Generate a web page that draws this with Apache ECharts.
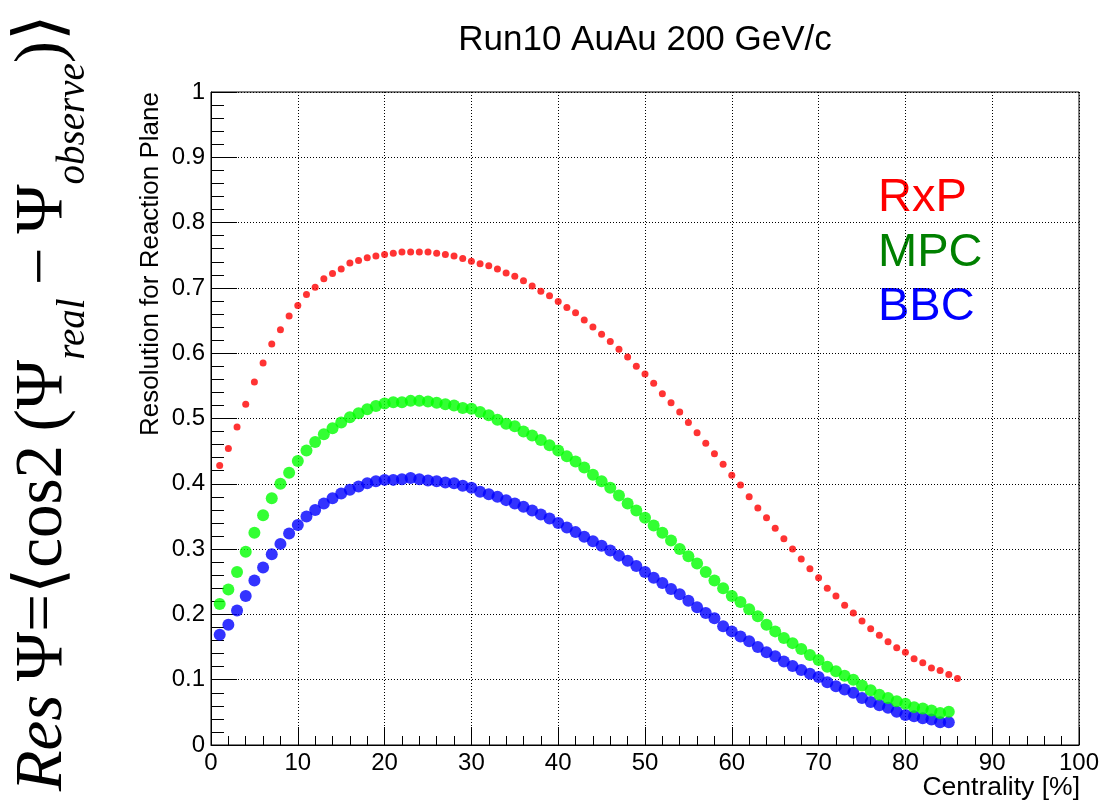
<!DOCTYPE html>
<html>
<head>
<meta charset="utf-8">
<script src="https://cdn.jsdelivr.net/npm/echarts@6/dist/echarts.min.js"></script>
<style>
html,body{margin:0;padding:0;background:#fff;}
#chart{width:1106px;height:806px;}
</style>
</head>
<body>
<div id="chart"></div>
<script>
const chartTitle = 'Run10 AuAu 200 GeV/c';
const xTitle = 'Centrality [%]';
const yTitle = 'Resolution for Reaction Plane';
const seriesNames = ['RxP', 'MPC', 'BBC'];

const centrality = [1,2,3,4,5,6,7,8,9,10,11,12,13,14,15,16,17,18,19,20,
  21,22,23,24,25,26,27,28,29,30,31,32,33,34,35,36,37,38,39,40,
  41,42,43,44,45,46,47,48,49,50,51,52,53,54,55,56,57,58,59,60,
  61,62,63,64,65,66,67,68,69,70,71,72,73,74,75,76,77,78,79,80,
  81,82,83,84,85,86];

const rxp = [0.428,0.454,0.487,0.522,0.556,0.585,0.614,0.636,0.657,0.673,
  0.690,0.701,0.714,0.722,0.729,0.738,0.742,0.746,0.749,0.751,
  0.753,0.755,0.755,0.755,0.755,0.753,0.751,0.749,0.745,0.741,
  0.737,0.734,0.729,0.723,0.718,0.711,0.703,0.695,0.688,0.679,
  0.670,0.662,0.651,0.640,0.629,0.618,0.606,0.594,0.580,0.568,
  0.554,0.538,0.524,0.510,0.494,0.478,0.462,0.446,0.430,0.413,
  0.398,0.380,0.363,0.348,0.332,0.316,0.300,0.285,0.270,0.256,
  0.240,0.228,0.214,0.202,0.190,0.178,0.168,0.158,0.149,0.142,
  0.132,0.126,0.118,0.114,0.108,0.102];

const mpc = [0.216,0.238,0.265,0.296,0.325,0.352,0.378,0.400,0.417,0.435,
  0.451,0.464,0.476,0.485,0.494,0.502,0.508,0.514,0.519,0.523,
  0.525,0.525,0.527,0.527,0.526,0.524,0.522,0.520,0.516,0.515,
  0.510,0.505,0.498,0.492,0.488,0.480,0.474,0.467,0.459,0.451,
  0.442,0.434,0.425,0.414,0.404,0.394,0.382,0.370,0.359,0.348,
  0.336,0.325,0.313,0.300,0.289,0.278,0.265,0.252,0.240,0.228,
  0.219,0.208,0.197,0.184,0.174,0.164,0.156,0.147,0.138,0.130,
  0.120,0.113,0.106,0.100,0.091,0.084,0.077,0.072,0.067,0.063,
  0.058,0.056,0.053,0.049,0.051];

const bbc = [0.169,0.184,0.206,0.228,0.252,0.272,0.292,0.308,0.324,0.337,
  0.350,0.360,0.370,0.378,0.385,0.391,0.396,0.401,0.404,0.406,
  0.406,0.407,0.409,0.407,0.405,0.404,0.402,0.401,0.397,0.394,
  0.388,0.384,0.380,0.375,0.370,0.365,0.359,0.353,0.347,0.340,
  0.333,0.326,0.319,0.312,0.305,0.298,0.290,0.282,0.274,0.265,
  0.256,0.248,0.239,0.231,0.221,0.211,0.202,0.194,0.182,0.174,
  0.166,0.159,0.150,0.142,0.136,0.128,0.121,0.115,0.109,0.104,
  0.096,0.090,0.085,0.080,0.072,0.066,0.061,0.057,0.051,0.046,
  0.044,0.041,0.039,0.035,0.035];

function pairs(ys) { return ys.map((v, i) => [centrality[i], v]); }

const chart = echarts.init(document.getElementById('chart'), null, {renderer: 'canvas'});
const SANS = "'Liberation Sans', Arial, sans-serif";
const SERIF = "'Liberation Serif', 'DejaVu Serif', serif";

const option = {
  backgroundColor: '#ffffff',
  animation: false,
  grid: {left: 211, top: 92, width: 868, height: 653, show: true, borderColor: '#000', borderWidth: 1, backgroundColor: 'transparent'},
  xAxis: {
    type: 'value', min: 0, max: 100, interval: 10,
    axisLine: {show: true, onZero: false, lineStyle: {color: '#000', width: 1}},
    axisTick: {show: true, inside: true, length: 18, lineStyle: {color: '#000', width: 1}},
    minorTick: {show: true, splitNumber: 5, length: 9, lineStyle: {color: '#000', width: 1}},
    axisLabel: {color: '#000', fontSize: 24, fontFamily: SANS, margin: 6},
    splitLine: {show: true, lineStyle: {color: '#000', width: 1, type: [1, 2]}}
  },
  yAxis: {
    type: 'value', min: 0, max: 1, interval: 0.1,
    axisLine: {show: true, onZero: false, lineStyle: {color: '#000', width: 1}},
    axisTick: {show: true, inside: true, length: 26, lineStyle: {color: '#000', width: 1}},
    minorTick: {show: true, splitNumber: 5, length: 13, lineStyle: {color: '#000', width: 1}},
    axisLabel: {color: '#000', fontSize: 24, fontFamily: SANS, margin: 6},
    splitLine: {show: true, lineStyle: {color: '#000', width: 1, type: [1, 2]}}
  },
  series: [
    {name: seriesNames[0], type: 'scatter', data: pairs(rxp), symbol: 'circle', symbolSize: 7, itemStyle: {color: '#ff0000'}},
    {name: seriesNames[2], type: 'scatter', data: pairs(bbc), symbol: 'circle', symbolSize: 12, itemStyle: {color: '#0000ff'}},
    {name: seriesNames[1], type: 'scatter', data: pairs(mpc), symbol: 'circle', symbolSize: 12, itemStyle: {color: '#00ff00'}}
  ],
  graphic: [
    {type: 'text', x: 645, y: 40, style: {text: chartTitle, fontSize: 35, fontFamily: SANS, fill: '#000', align: 'center', verticalAlign: 'middle'}},
    {type: 'text', x: 1080, y: 788, style: {text: xTitle, fontSize: 26.5, fontFamily: SANS, fill: '#000', align: 'right', verticalAlign: 'middle'}},
    {type: 'text', x: 151, y: 92, rotation: Math.PI / 2, style: {text: yTitle, fontSize: 26, fontFamily: SANS, fill: '#000', align: 'right', verticalAlign: 'middle'}},
    {type: 'text', x: 878, y: 198, style: {text: seriesNames[0], fontSize: 47, fontFamily: SANS, fill: '#ff0000', align: 'left', verticalAlign: 'middle'}},
    {type: 'text', x: 878, y: 253, style: {text: seriesNames[1], fontSize: 47, fontFamily: SANS, fill: '#008000', align: 'left', verticalAlign: 'middle'}},
    {type: 'text', x: 878, y: 307, style: {text: seriesNames[2], fontSize: 47, fontFamily: SANS, fill: '#0000ff', align: 'left', verticalAlign: 'middle'}},
    {type: 'text', x: 43, y: 403, rotation: Math.PI / 2, style: {
      text: '{i|Res}{n|\u2009Ψ=⟨cos2\u2009(Ψ}{s|real}{n|\u2009−\u2009Ψ}{s|observe}{n|)⟩}',
      align: 'center', verticalAlign: 'middle', fill: '#000',
      rich: {
        i: {fontSize: 67, fontStyle: 'italic', fontFamily: SERIF, fill: '#000', lineHeight: 100, verticalAlign: 'middle'},
        n: {fontSize: 67, fontFamily: SERIF, fill: '#000', lineHeight: 100, verticalAlign: 'middle'},
        s: {fontSize: 39, fontStyle: 'italic', fontFamily: SERIF, fill: '#000', lineHeight: 14, verticalAlign: 'bottom'}
      }
    }}
  ]
};
chart.setOption(option);
</script>
</body>
</html>
